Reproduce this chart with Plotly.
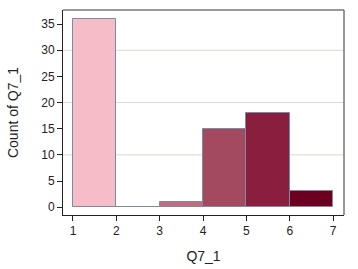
import plotly.graph_objects as go

bin_edges = [1, 2, 3, 4, 5, 6, 7]
counts = [36, 0, 1, 15, 18, 3]
colors = ["#F6BDC9", "#E3A0B0", "#C36A80", "#A44A5E", "#8A1E3E", "#6C0020"]
x_ticks = [1, 2, 3, 4, 5, 6, 7]
y_ticks = [0, 5, 10, 15, 20, 25, 30, 35]

centers = [(bin_edges[i] + bin_edges[i + 1]) / 2 for i in range(len(counts))]
widths = [bin_edges[i + 1] - bin_edges[i] for i in range(len(counts))]

fig = go.Figure()
fig.add_trace(go.Bar(
    x=centers, y=counts, width=widths,
    marker=dict(color=colors, line=dict(color="#7A8BA3", width=1)),
    showlegend=False,
))

font = "Liberation Sans, Arial, sans-serif"
fig.update_layout(
    width=358, height=269,
    margin=dict(l=63, r=14, t=10, b=54),
    paper_bgcolor="white", plot_bgcolor="white",
    font=dict(family=font, size=12, color="#222222"),
    bargap=0,
    xaxis=dict(
        range=[0.77, 7.25], tickvals=x_ticks, ticks="outside", ticklen=5,
        tickcolor="#222222", showgrid=False, zeroline=False, automargin=False,
        showline=True, linecolor="#222222", linewidth=1,
        title=dict(text="Q7_1", font=dict(size=14), standoff=13),
    ),
    yaxis=dict(
        range=[-1.5, 37.7], tickvals=y_ticks, ticks="outside", ticklen=5,
        tickcolor="#222222", showgrid=False, zeroline=False, automargin=False,
        showline=True, linecolor="#222222", linewidth=1,
        title=dict(text="Count of Q7_1", font=dict(size=14), standoff=19),
    ),
    shapes=[
        dict(type="line", xref="paper", yref="y", x0=0, x1=1, y0=v, y1=v,
             line=dict(color="#DCDACD", width=1), layer="below")
        for v in [10, 20, 30]
    ] + [
        dict(type="line", xref="paper", yref="paper", x0=0, x1=1, y0=1, y1=1,
             line=dict(color="#777777", width=1.5)),
        dict(type="line", xref="paper", yref="paper", x0=1, x1=1, y0=0, y1=1,
             line=dict(color="#777777", width=1.5)),
    ],
)

fig.write_html("out.html")
